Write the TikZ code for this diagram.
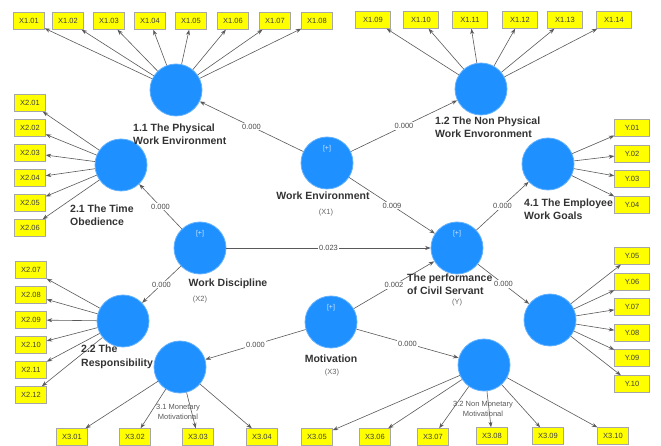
\documentclass[tikz,border=0pt]{standalone}
\usepackage{fontspec}
\setmainfont{Liberation Sans}
\usetikzlibrary{arrows.meta}
\definecolor{lvblue}{RGB}{30,144,255}
\definecolor{indyellow}{RGB}{255,255,0}
\tikzset{
  lv/.style={circle, fill=lvblue, draw=lvblue!70!white, line width=0.8pt, minimum size=52pt, inner sep=0pt},
  ind/.style={rectangle, fill=indyellow, draw=black!35, minimum width=31pt, minimum height=17pt, inner sep=0pt, font=\fontsize{7.5}{9}\selectfont, text=black!75},
  ld/.style={draw=black!65, line width=0.6pt, -{Stealth[length=5.5pt,width=4pt]}},
  coef/.style={fill=white, inner sep=1pt, font=\fontsize{7.5}{9}\selectfont, text=black!70},
  lvname/.style={font=\bfseries\fontsize{10.5}{13.5}\selectfont, text=black!80, align=left, inner sep=0pt},
  lvtag/.style={font=\fontsize{7.5}{9}\selectfont, text=black!60, inner sep=0pt},
  dimtag/.style={font=\fontsize{7.5}{10}\selectfont, text=black!65, align=center, inner sep=0pt},
  plus/.style={font=\fontsize{7}{8}\selectfont, text=white!80!lvblue, inner sep=0pt},
}
\def\indicator[#1](#2)(#3)(#4)#5{\node[ind,#1] (#3) at (#4) {#5}; \draw[ld] (#2) -- (#3);}

\begin{document}
\begin{tikzpicture}[x=1pt,y=-1pt]
	%%%%% START %%%%%
	\useasboundingbox (0,0) rectangle (661,446);
	
	\node[lv] (pe) at (176,90) {};
	\node[lv] (npe) at (481,89) {};
	\node[lv] (we) at (327,163) {};
	\node[lv] (to) at (121,165) {};
	\node[lv] (wd) at (200,248) {};
	\node[lv] (resp) at (123,321) {};
	\node[lv] (mon) at (180,367) {};
	\node[lv] (mot) at (331,322) {};
	\node[lv] (perf) at (457,248) {};
	\node[lv] (nmon) at (484,365) {};
	\node[lv] (goal) at (548,164) {};
	\node[lv] (ylow) at (550,320) {};
	
	\node[plus] (weplus) at ([yshift=14pt]we.center) {[+]};
	\node[plus] (wdplus) at ([yshift=14pt]wd.center) {[+]};
	\node[plus] (motplus) at ([yshift=14pt]mot.center) {[+]};
	\node[plus] (perfplus) at ([yshift=14pt]perf.center) {[+]};
	
	\indicator[](pe)(x101)(29,21){X1.01}
	\indicator[](pe)(x102)(68,21){X1.02}
	\indicator[](pe)(x103)(109,21){X1.03}
	\indicator[](pe)(x104)(150,21){X1.04}
	\indicator[](pe)(x105)(191,21){X1.05}
	\indicator[](pe)(x106)(233,21){X1.06}
	\indicator[](pe)(x107)(275,21){X1.07}
	\indicator[](pe)(x108)(317,21){X1.08}
	
	\indicator[minimum width=35pt](npe)(x109)(373,20){X1.09}
	\indicator[minimum width=35pt](npe)(x110)(421,20){X1.10}
	\indicator[minimum width=35pt](npe)(x111)(470,20){X1.11}
	\indicator[minimum width=35pt](npe)(x112)(520,20){X1.12}
	\indicator[minimum width=35pt](npe)(x113)(565,20){X1.13}
	\indicator[minimum width=35pt](npe)(x114)(614,20){X1.14}
	
	\indicator[](to)(x201)(30,103){X2.01}
	\indicator[](to)(x202)(30,128){X2.02}
	\indicator[](to)(x203)(30,153){X2.03}
	\indicator[](to)(x204)(30,178){X2.04}
	\indicator[](to)(x205)(30,203){X2.05}
	\indicator[](to)(x206)(30,228){X2.06}
	
	\indicator[](resp)(x207)(31,270){X2.07}
	\indicator[](resp)(x208)(31,295){X2.08}
	\indicator[](resp)(x209)(31,320){X2.09}
	\indicator[](resp)(x210)(31,345){X2.10}
	\indicator[](resp)(x211)(31,370){X2.11}
	\indicator[](resp)(x212)(31,395){X2.12}
	
	\indicator[](mon)(x301)(72,437){X3.01}
	\indicator[](mon)(x302)(135,437){X3.02}
	\indicator[](mon)(x303)(198,437){X3.03}
	\indicator[](mon)(x304)(262,437){X3.04}
	
	\indicator[](nmon)(x305)(317,437){X3.05}
	\indicator[](nmon)(x306)(375,437){X3.06}
	\indicator[](nmon)(x307)(433,437){X3.07}
	\indicator[](nmon)(x308)(492,436){X3.08}
	\indicator[](nmon)(x309)(548,436){X3.09}
	\indicator[](nmon)(x310)(613,436){X3.10}
	
	\indicator[minimum width=35pt](goal)(y01)(632,128){Y.01}
	\indicator[minimum width=35pt](goal)(y02)(632,154){Y.02}
	\indicator[minimum width=35pt](goal)(y03)(632,179){Y.03}
	\indicator[minimum width=35pt](goal)(y04)(632,205){Y.04}
	
	\indicator[minimum width=35pt](ylow)(y05)(632,256){Y.05}
	\indicator[minimum width=35pt](ylow)(y06)(632,282){Y.06}
	\indicator[minimum width=35pt](ylow)(y07)(632,307){Y.07}
	\indicator[minimum width=35pt](ylow)(y08)(632,333){Y.08}
	\indicator[minimum width=35pt](ylow)(y09)(632,358){Y.09}
	\indicator[minimum width=35pt](ylow)(y10)(632,384){Y.10}
	
	\draw[ld] (we) -- node[coef, midway] {0.000} (pe);
	\draw[ld] (we) -- node[coef, midway] {0.000} (npe);
	\draw[ld] (wd) -- node[coef, midway] {0.000} (to);
	\draw[ld] (wd) -- node[coef, midway] {0.000} (resp);
	\draw[ld] (we) -- node[coef, midway] {0.009} (perf);
	\draw[ld] (wd) -- node[coef, midway] {0.023} (perf);
	\draw[ld] (mot) -- node[coef, midway] {0.002} (perf);
	\draw[ld] (perf) -- node[coef, midway] {0.000} (goal);
	\draw[ld] (perf) -- node[coef, midway] {0.000} (ylow);
	\draw[ld] (mot) -- node[coef, midway] {0.000} (mon);
	\draw[ld] (mot) -- node[coef, midway] {0.000} (nmon);
	
	\node[lvname, anchor=west] (pename) at (133,134) {1.1 The Physical\\Work Environment};
	\node[lvname, anchor=west] (npename) at (435,127) {1.2 The Non Physical\\Work Envoronment};
	\node[lvname, anchor=west] (toname) at (70,215) {2.1 The Time\\Obedience};
	\node[lvname, anchor=west] (respname) at (81,357) {2.2 The\\Responsibility};
	\node[lvname, anchor=west] (goalname) at (524,209) {4.1 The Employee\\Work Goals};
	\node[lvname, anchor=west] (perfname) at (407,284) {The performance\\of Civil Servant};
	\node[lvname] (wename) at (323,196) {Work Environment};
	\node[lvname] (wdname) at (228,284) {Work Discipline};
	\node[lvname] (motname) at (331,359) {Motivation};
	\node[lvtag] (wetag) at (326,213) {(X1)};
	\node[lvtag] (wdtag) at (200,300) {(X2)};
	\node[lvtag] (mottag) at (332,373) {(X3)};
	\node[lvtag] (perftag) at (457,303) {(Y)};
	\node[dimtag] (monname) at (178,412) {3.1 Monetary\\Motivational};
	\node[dimtag] (nmonname) at (483,409) {3.2 Non Monetary\\Motivational};
	
	%%%%% END %%%%%
\end{tikzpicture}
\end{document}
